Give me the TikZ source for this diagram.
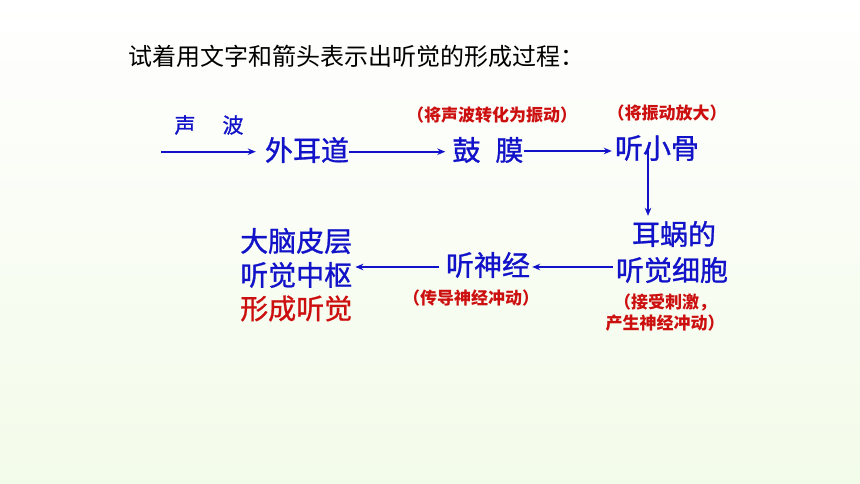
\documentclass[tikz,border=0pt]{standalone}
\usepackage{fontspec}
\setmainfont{Noto Sans CJK SC}
\newfontfamily\heavycjk[FakeBold=1]{Noto Sans CJK SC}
\usetikzlibrary{arrows.meta}
\definecolor{tingblue}{RGB}{18,18,200}
\definecolor{tingred}{RGB}{204,16,16}
\definecolor{bggreen}{RGB}{243,251,233}
\tikzset{
  word/.style={tingblue, font=\heavycjk\fontsize{28}{30}\selectfont, inner sep=0pt},
  note/.style={tingred, font=\bfseries\fontsize{17}{21}\selectfont, inner sep=0pt, align=center},
  arr/.style={-{Stealth[length=8pt,width=6.5pt]}, tingblue, line width=2pt},
}
\begin{document}
\begin{tikzpicture}[x=1pt,y=-1pt]
\useasboundingbox (0,0) rectangle (860,484);
\shade [top color=white, bottom color=bggreen] (0,0) rectangle (860,484);

\node [font=\fontsize{24}{26}\selectfont, anchor=west, inner sep=0pt] (title) at (128,56.5) {试着用文字和箭头表示出听觉的形成过程：};

\node [word, font=\heavycjk\fontsize{21}{23}\selectfont] (shengbo) at (209,125) {声\hspace{27pt}波};
\node [word] (waierdao) at (307,150) {外耳道};
\node [word] (gumo) at (488,150) {鼓\hspace{15pt}膜};
\node [word] (tingxiaogu) at (657,148) {听小骨};
\node [note] (zhuanhua) at (492,115) {（将声波转化为振动）};
\node [note] (fangda) at (667,113) {（将振动放大）};

\node [word] (erwo) at (674,234) {耳蜗的};
\node [word] (xibao) at (672,270) {听觉细胞};
\node [note] (jieshou) at (665,312.5) {（接受刺激，\\产生神经冲动）};
\node [word] (shenjing) at (488,265) {听神经};
\node [note] (chuandao) at (471,298) {（传导神经冲动）};

\node [word, anchor=west] (pifu) at (240,241) {大脑皮层};
\node [word, anchor=west] (zhongshu) at (240,275) {听觉中枢};
\node [word, anchor=west, tingred] (xingcheng) at (240,308.5) {形成听觉};

\coordinate (src) at (161,151.7);
\draw [arr, shorten >=9pt] (src) -- (src -| waierdao.west);
\draw [arr, shorten >=7pt] ([yshift=-1.7pt]waierdao.east) -- ([yshift=-1.7pt]waierdao.east -| gumo.west);
\draw [arr, shorten >=3pt] ([yshift=-1pt]gumo.east) -- ([yshift=-1pt]gumo.east -| tingxiaogu.west);
\coordinate (drop) at ([xshift=-9pt,yshift=-2pt]tingxiaogu.center);
\draw [arr, shorten >=5pt] (drop) -- (drop |- erwo.north);
\coordinate (fromxb) at ([yshift=3pt]xibao.west);
\draw [arr, shorten <=3pt, shorten >=2pt] (fromxb) -- (fromxb -| shenjing.east);
\coordinate (fromsj) at ([yshift=-2pt]shenjing.west);
\draw [arr, shorten <=7pt, shorten >=3pt] (fromsj) -- (fromsj -| zhongshu.east);
\end{tikzpicture}
\end{document}
